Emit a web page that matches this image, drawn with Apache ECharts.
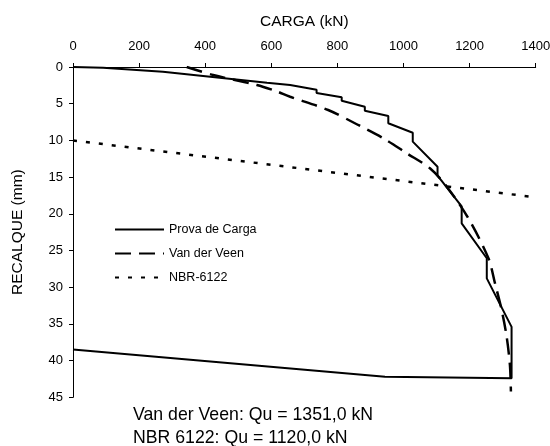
<!DOCTYPE html>
<html>
<head>
<meta charset="utf-8">
<script src="https://cdn.jsdelivr.net/npm/echarts@6/dist/echarts.min.js"></script>
<style>html,body{margin:0;padding:0;background:#fff;}#c{width:550px;height:446px;}</style>
</head>
<body>
<div id="c"></div>
<script>
// Load (kN), settlement (mm)
var provaCarga = [[0,0],[91,0.1],[272,0.64],[272,0.88],[587,2.14],[587,2.35],[657,2.45],[657,2.6],[737,3.1],[737,3.55],[813,4.13],[813,4.59],[883,5.41],[883,5.95],[954,6.68],[954,7.67],[1028,8.95],[1028,10.17],[1103,13.58],[1103,14.8],[1176,19.0],[1176,21.3],[1252,26.06],[1252,28.8],[1327,35.4],[1327,42.4],[944,42.2],[0,38.5]];
var vanDerVeen = [[344,0],[424,1.09],[556,2.45],[611,3.23],[657,4.05],[772,5.86],[863,7.9],[939,9.71],[1010,11.76],[1080,13.8],[1131,16.3],[1196,20.6],[1257,26.06],[1277,29.5],[1297,33.1],[1312,36.7],[1322,40.6],[1325,44.2]];
var nbr6122 = [[0,10],[1390,17.7]];
var seriesNames = ['Prova de Carga','Van der Veen','NBR-6122'];
var annotations = ['Van der Veen: Qu = 1351,0 kN','NBR 6122: Qu = 1120,0 kN'];

var FONT = 'Liberation Sans, Arial, sans-serif';
var chart = echarts.init(document.getElementById('c'));
chart.setOption({
  animation:false,
  backgroundColor:'#fff',
  textStyle:{fontFamily:FONT,color:'#000'},
  grid:{left:73,top:67,width:462.7,height:330.3,containLabel:false,outerBoundsMode:'none'},
  xAxis:{type:'value',position:'top',min:0,max:1400,interval:200,
    name:'CARGA (kN)',nameLocation:'middle',nameGap:37,
    nameTextStyle:{fontSize:15.5,color:'#000',fontFamily:FONT},
    axisLine:{show:true,lineStyle:{color:'#000',width:1}},
    axisTick:{show:true,inside:false,length:4,lineStyle:{color:'#000'}},
    axisLabel:{fontSize:13,color:'#000',margin:14,fontFamily:FONT,formatter:function(v){return String(v);}},
    splitLine:{show:false}},
  yAxis:{type:'value',inverse:true,min:0,max:45,interval:5,
    name:'RECALQUE (mm)',nameLocation:'middle',nameGap:47,
    nameTextStyle:{fontSize:15.5,color:'#000',fontFamily:FONT},
    axisLine:{show:true,lineStyle:{color:'#000',width:1}},
    axisTick:{show:true,inside:false,length:4,lineStyle:{color:'#000'}},
    axisLabel:{fontSize:13,color:'#000',margin:10,fontFamily:FONT},
    splitLine:{show:false}},
  legend:{orient:'vertical',left:114,top:223,padding:0,itemWidth:49,itemHeight:10,itemGap:11,
    itemStyle:{opacity:0},
    textStyle:{fontSize:12.5,color:'#000',fontFamily:FONT},
    data:seriesNames},
  graphic:[
    {type:'text',left:133,top:406,style:{text:annotations[0],font:'17.7px Liberation Sans, Arial',fill:'#000'}},
    {type:'text',left:133,top:429,style:{text:annotations[1],font:'17.7px Liberation Sans, Arial',fill:'#000'}}
  ],
  series:[
    {name:seriesNames[0],type:'line',data:provaCarga,symbol:'none',showSymbol:false,
      lineStyle:{color:'#000',width:2,type:'solid'},itemStyle:{color:'#000'}},
    {name:seriesNames[1],type:'line',data:vanDerVeen,symbol:'none',showSymbol:false,smooth:0.3,
      lineStyle:{color:'#000',width:2.5,type:[16,8]},itemStyle:{color:'#000'}},
    {name:seriesNames[2],type:'line',data:nbr6122,symbol:'none',showSymbol:false,
      lineStyle:{color:'#000',width:2.5,type:[4,9]},itemStyle:{color:'#000'}}
  ]
});
</script>
</body>
</html>
